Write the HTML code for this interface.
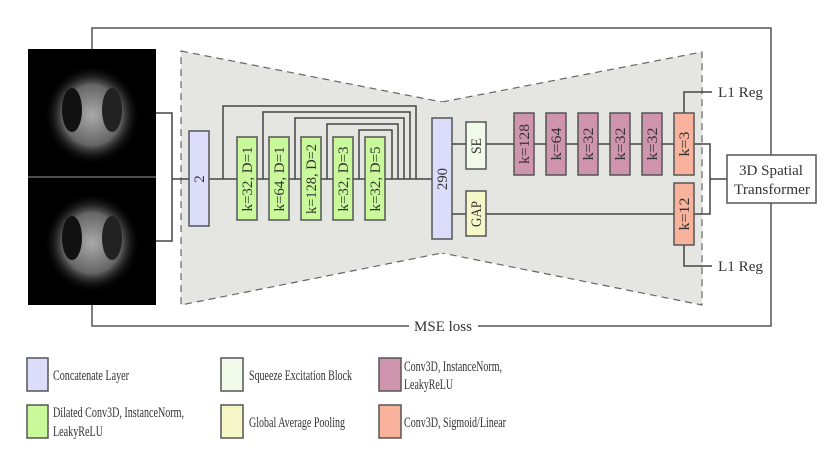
<!DOCTYPE html>
<html><head><style>body{margin:0;background:#fff}svg{display:block}text{font-family:"Liberation Serif",serif;fill:#333}</style></head><body>
<svg width="830" height="458" viewBox="0 0 830 458" xmlns="http://www.w3.org/2000/svg">
<defs>
<radialGradient id="g1" cx="50%" cy="50%" r="50%"><stop offset="0" stop-color="#aaa"/><stop offset="0.6" stop-color="#666"/><stop offset="1" stop-color="#000" stop-opacity="0"/></radialGradient>
</defs>
<g stroke="#555" stroke-width="1.5" fill="none">
<polyline points="92,49 92,28 771,28 771,155"/>
<polyline points="771,203 771,326 478,326"/>
<polyline points="409,326 92,326 92,305"/>
</g>
<polygon points="181,51 442,102 442,253 181,305" fill="#e5e6e1" stroke="#666" stroke-dasharray="7,5" stroke-width="1.2"/>
<polygon points="442,102 702,52 702,305 442,253" fill="#e5e6e1" stroke="#666" stroke-dasharray="7,5" stroke-width="1.2"/>
<line x1="442" y1="102" x2="442" y2="253" stroke="#e5e6e1" stroke-width="3"/>
<rect x="28" y="49" width="128" height="256" fill="#000"/>
<ellipse cx="92" cy="115" rx="48" ry="50" fill="url(#g1)"/>
<ellipse cx="92" cy="243" rx="48" ry="50" fill="url(#g1)"/>
<ellipse cx="72" cy="110" rx="10" ry="22" fill="#111"/><ellipse cx="112" cy="110" rx="10" ry="22" fill="#222"/>
<ellipse cx="72" cy="238" rx="10" ry="22" fill="#111"/><ellipse cx="112" cy="238" rx="10" ry="22" fill="#222"/>
<line x1="28" y1="177" x2="156" y2="177" stroke="#999" stroke-width="1"/>
<g stroke="#444" stroke-width="1.5" fill="none">
<polyline points="156,113 172,113 172,241 156,241"/>
<line x1="172" y1="179" x2="432" y2="179"/>
<polyline points="223,179 223,106 416,106 416,179"/>
<polyline points="263,179 263,112 410,112 410,179"/>
<polyline points="295,179 295,118 404,118 404,179"/>
<polyline points="327,179 327,124 398,124 398,179"/>
<polyline points="359,179 359,130 392,130 392,179"/>
<line x1="452" y1="144" x2="674" y2="144"/>
<line x1="452" y1="214" x2="674" y2="214"/>
<polyline points="694,144 710,144 710,214 694,214"/>
<line x1="710" y1="179" x2="727" y2="179"/>
<polyline points="684,113 684,92 712,92"/>
<polyline points="684,245 684,266 712,266"/>
</g>
<g stroke="#555" stroke-width="1.5">
<rect x="189" y="131" width="20" height="95" fill="#dcdcfb"/>
<rect x="432" y="118" width="20" height="121" fill="#dcdcfb"/>
<g fill="#c9f99a">
<rect x="237" y="137" width="20" height="83"/><rect x="269" y="137" width="20" height="83"/><rect x="301" y="137" width="20" height="83"/><rect x="333" y="137" width="20" height="83"/><rect x="365" y="137" width="20" height="83"/>
</g>
<rect x="466" y="122" width="20" height="47" fill="#f2fbe9"/>
<rect x="466" y="191" width="20" height="45" fill="#f6f7c9"/>
<g fill="#cf95ae">
<rect x="514" y="113" width="20" height="62"/><rect x="546" y="113" width="20" height="62"/><rect x="578" y="113" width="20" height="62"/><rect x="610" y="113" width="20" height="62"/><rect x="642" y="113" width="20" height="62"/>
</g>
<rect x="674" y="113" width="20" height="62" fill="#f9b29b"/>
<rect x="674" y="183" width="20" height="62" fill="#f9b29b"/>
<rect x="727" y="155" width="89" height="48" fill="#fff"/>
</g>
<g font-size="15" text-anchor="middle" lengthAdjust="spacingAndGlyphs">
<text transform="translate(204,179) rotate(-90)">2</text>
<text transform="translate(447,179) rotate(-90)" textLength="22" lengthAdjust="spacingAndGlyphs">290</text>
<text transform="translate(252,179) rotate(-90)" textLength="65" lengthAdjust="spacingAndGlyphs">k=32, D=1</text>
<text transform="translate(284,179) rotate(-90)" textLength="65" lengthAdjust="spacingAndGlyphs">k=64, D=1</text>
<text transform="translate(316,179) rotate(-90)" textLength="70" lengthAdjust="spacingAndGlyphs">k=128, D=2</text>
<text transform="translate(348,179) rotate(-90)" textLength="65" lengthAdjust="spacingAndGlyphs">k=32, D=3</text>
<text transform="translate(380,179) rotate(-90)" textLength="65" lengthAdjust="spacingAndGlyphs">k=32, D=5</text>
<text transform="translate(481,146) rotate(-90)" textLength="16" lengthAdjust="spacingAndGlyphs">SE</text>
<text transform="translate(481,214) rotate(-90)" textLength="26" lengthAdjust="spacingAndGlyphs">GAP</text>
<text transform="translate(529,144) rotate(-90)" textLength="40" lengthAdjust="spacingAndGlyphs">k=128</text>
<text transform="translate(561,144) rotate(-90)" textLength="33" lengthAdjust="spacingAndGlyphs">k=64</text>
<text transform="translate(593,144) rotate(-90)" textLength="33" lengthAdjust="spacingAndGlyphs">k=32</text>
<text transform="translate(625,144) rotate(-90)" textLength="33" lengthAdjust="spacingAndGlyphs">k=32</text>
<text transform="translate(657,144) rotate(-90)" textLength="33" lengthAdjust="spacingAndGlyphs">k=32</text>
<text transform="translate(689,144) rotate(-90)" textLength="25" lengthAdjust="spacingAndGlyphs">k=3</text>
<text transform="translate(689,214) rotate(-90)" textLength="33" lengthAdjust="spacingAndGlyphs">k=12</text>
</g>
<g font-size="15">
<text x="718" y="97" textLength="45" lengthAdjust="spacingAndGlyphs">L1 Reg</text>
<text x="718" y="271" textLength="45" lengthAdjust="spacingAndGlyphs">L1 Reg</text>
<text x="739" y="175" textLength="64" lengthAdjust="spacingAndGlyphs">3D Spatial</text>
<text x="734" y="194" textLength="76" lengthAdjust="spacingAndGlyphs">Transformer</text>
<text x="414" y="331" textLength="58" lengthAdjust="spacingAndGlyphs">MSE loss</text>
</g>
<g stroke="#555" stroke-width="1.5">
<rect x="27" y="358" width="21" height="33" fill="#dcdcfb"/>
<rect x="27" y="405" width="21" height="33" fill="#c9f99a"/>
<rect x="221" y="358" width="22" height="33" fill="#f2fbe9"/>
<rect x="221" y="405" width="22" height="33" fill="#f6f7c9"/>
<rect x="379" y="358" width="22" height="33" fill="#cf95ae"/>
<rect x="379" y="405" width="22" height="33" fill="#f9b29b"/>
</g>
<g font-size="15">
<text x="53" y="380" textLength="76" lengthAdjust="spacingAndGlyphs">Concatenate Layer</text>
<text x="53" y="417" textLength="131" lengthAdjust="spacingAndGlyphs">Dilated Conv3D, InstanceNorm,</text>
<text x="53" y="436" textLength="50" lengthAdjust="spacingAndGlyphs">LeakyReLU</text>
<text x="249" y="380" textLength="103" lengthAdjust="spacingAndGlyphs">Squeeze Excitation Block</text>
<text x="249" y="427" textLength="96" lengthAdjust="spacingAndGlyphs">Global Average Pooling</text>
<text x="404" y="371" textLength="98" lengthAdjust="spacingAndGlyphs">Conv3D, InstanceNorm,</text>
<text x="404" y="389" textLength="49" lengthAdjust="spacingAndGlyphs">LeakyReLU</text>
<text x="404" y="427" textLength="102" lengthAdjust="spacingAndGlyphs">Conv3D, Sigmoid/Linear</text>
</g>
</svg>
</body></html>
